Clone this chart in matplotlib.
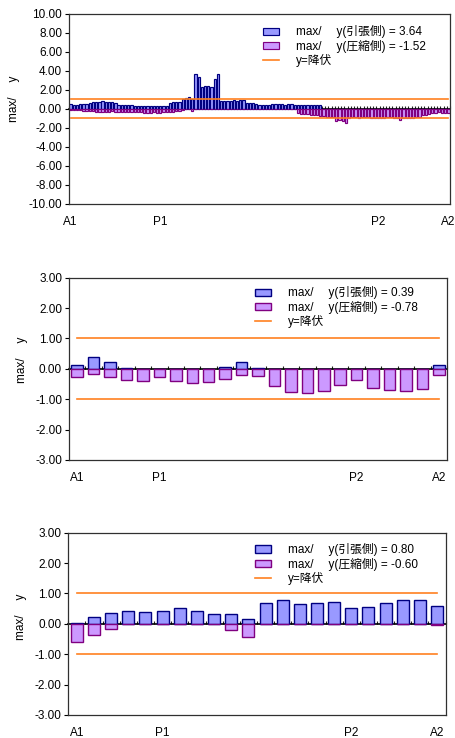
import numpy as np
import matplotlib.pyplot as plt

plt.rcParams['font.family'] = ['Liberation Sans', 'Noto Sans CJK JP']
plt.rcParams['font.size'] = 8.5

# Panel 1 data (119 members)
t1 = [0.50, 0.45, 0.45, 0.50, 0.50, 0.55, 0.60, 0.70,
      0.75, 0.75, 0.78, 0.72, 0.70, 0.70, 0.65,
      0.45, 0.42, 0.42, 0.40, 0.35,
      0.30, 0.30, 0.30, 0.32, 0.30, 0.30, 0.28, 0.30, 0.30, 0.28, 0.30,
      0.60, 0.68, 0.70, 0.70,
      1.05, 1.10, 1.20, 1.05,
      3.64, 3.30, 2.30, 2.40, 2.40, 2.30, 3.10, 3.64,
      0.85, 0.85, 0.80, 0.82,
      0.90, 0.85, 0.90, 0.95,
      0.60, 0.60, 0.60, 0.55,
      0.35, 0.35, 0.35, 0.38,
      0.55, 0.50, 0.48, 0.50, 0.45, 0.48, 0.50, 0.45,
      0.45, 0.42, 0.40, 0.42, 0.45, 0.40, 0.40, 0.45,
      0.00, 0.00, 0.00, 0.00, 0.00, 0.00, 0.00, 0.00, 0.00, 0.00,
      0.00, 0.00, 0.00, 0.00, 0.00, 0.00, 0.00, 0.00, 0.00, 0.00,
      0.00, 0.00, 0.00, 0.00, 0.00, 0.00, 0.00, 0.00, 0.00, 0.00,
      0.00, 0.00, 0.00, 0.00, 0.00, 0.00, 0.00, 0.00, 0.00, 0.00]
c1 = [-0.15, -0.15, -0.15, -0.15, -0.18, -0.20, -0.25, -0.28,
      -0.30, -0.32, -0.30, -0.30, -0.30, -0.28, -0.30,
      -0.30, -0.30, -0.32, -0.30, -0.32, -0.30, -0.30,
      -0.38, -0.40, -0.42, -0.40, -0.38, -0.40, -0.40, -0.35, -0.32, -0.30,
      -0.30, -0.28, -0.28, -0.10,
      -0.05, -0.05, -0.25,
      0.00, 0.00, 0.00, 0.00, 0.00, 0.00, 0.00, 0.00, 0.00, 0.00,
      0.00, 0.00, 0.00, 0.00, 0.00, 0.00, 0.00, 0.00, 0.00, 0.00,
      0.00, 0.00, 0.00, 0.00,
      -0.05, -0.05, -0.05, -0.05, -0.05, -0.05, -0.05, -0.05,
      -0.45, -0.50, -0.55, -0.55, -0.60, -0.60,
      -0.70, -0.72, -0.75,
      -0.85, -0.90, -0.90,
      -1.30, -1.20, -1.30, -1.52,
      -0.95, -0.90, -0.90, -0.92, -0.90, -0.88,
      -0.90, -0.95, -0.95, -0.92, -0.95, -0.95, -0.90, -0.90, -0.95, -0.95,
      -1.20,
      -1.00, -0.95, -0.95, -0.92, -0.90, -0.85,
      -0.60, -0.60, -0.55,
      -0.40, -0.40, -0.38, -0.40, -0.42, -0.40]
ticks1 = {0: 'A1', 28: 'P1', 96: 'P2', 118: 'A2'}

# Panel 2 data (23 members)
t2 = [0.14, 0.39, 0.23, 0.02, 0.00, 0.00, 0.00, 0.00, 0.00, 0.05, 0.23, 0.04,
      0.00, 0.00, 0.00, 0.00, 0.00, 0.00, 0.00, 0.00, 0.00, 0.00, 0.12]
c2 = [-0.27, -0.16, -0.28, -0.37, -0.40, -0.27, -0.39, -0.48, -0.44, -0.35, -0.20, -0.25,
      -0.58, -0.75, -0.78, -0.72, -0.53, -0.36, -0.62, -0.71, -0.74, -0.65, -0.20]
ticks2 = {0: 'A1', 5: 'P1', 17: 'P2', 22: 'A2'}

# Panel 3 data (22 members)
t3 = [0.03, 0.22, 0.35, 0.42, 0.38, 0.41, 0.51, 0.42, 0.33, 0.33, 0.16,
      0.68, 0.80, 0.64, 0.67, 0.71, 0.51, 0.54, 0.70, 0.80, 0.79, 0.59]
c3 = [-0.60, -0.38, -0.16, 0.00, 0.00, 0.00, 0.00, 0.00, 0.00, -0.20, -0.43,
      0.00, 0.00, 0.00, 0.00, 0.00, 0.00, 0.00, 0.00, 0.00, 0.00, -0.05]
ticks3 = {0: 'A1', 5: 'P1', 16: 'P2', 21: 'A2'}

yield_val = 1.0
sig = 'max/\u3000 y'


def draw_panel(ax, tens, comp, ticks, ylim, ystep, leg_xy, ylab_xy, bar_lw):
    n = len(tens)
    x = np.arange(n)
    b1 = ax.bar(x, tens, width=0.7, color='#9999FF', edgecolor='#000080', linewidth=bar_lw,
                label=sig + '(引張側) = %.2f' % max(tens))
    b2 = ax.bar(x, comp, width=0.7, color='#CC99FF', edgecolor='#800080', linewidth=bar_lw,
                label=sig + '(圧縮側) = %.2f' % min(comp))
    ln, = ax.plot([0, n - 1], [yield_val, yield_val], color='#FF8020', lw=1.2, label='y=降伏')
    ax.plot([0, n - 1], [-yield_val, -yield_val], color='#FF8020', lw=1.2)

    ax.set_xlim(-0.5, n - 0.5)
    ax.set_ylim(-ylim, ylim)
    yt = np.arange(-ylim, ylim + 0.001, ystep)
    ax.set_yticks(yt)
    ax.set_yticklabels(['%.2f' % v for v in yt])
    ax.tick_params(axis='y', direction='out', length=3, width=0.8, pad=2)
    ax.set_xticks(list(ticks.keys()))
    ax.set_xticklabels(list(ticks.values()))
    ax.tick_params(axis='x', length=0, pad=9)
    for s in ax.spines.values():
        s.set_color('#303030')
        s.set_linewidth(0.9)

    # category axis crossing at zero
    zax = ax.secondary_xaxis(0, transform=ax.transData)
    zax.set_xticks(np.arange(n + 1) - 0.5)
    zax.tick_params(direction='in', length=2.5, width=0.8, labelbottom=False, color='#202020')
    zax.spines['bottom'].set_linewidth(1.2)
    zax.spines['bottom'].set_color('black')

    ax.set_ylabel(sig)
    ax.yaxis.set_label_coords(*ylab_xy)
    ax.legend(handles=[b1, b2, ln], loc='upper left', bbox_to_anchor=leg_xy, frameon=False,
              borderpad=0, handlelength=1.4, handleheight=0.55, handletextpad=1.4,
              labelspacing=0.12)


fig = plt.figure(figsize=(4.56, 7.38), dpi=100)
ax1 = fig.add_axes([0.1513, 0.7236, 0.8355, 0.2579])
ax2 = fig.add_axes([0.1513, 0.3767, 0.8290, 0.2470])
ax3 = fig.add_axes([0.1498, 0.0312, 0.8274, 0.2470])

draw_panel(ax1, t1, c1, ticks1, 10, 2, (0.493, 0.97), (-0.129, 0.55), 0.85)
draw_panel(ax2, t2, c2, ticks2, 3, 1, (0.476, 0.985), (-0.108, 0.55), 1.0)
draw_panel(ax3, t3, c3, ticks3, 3, 1, (0.479, 0.975), (-0.11, 0.54), 1.0)

fig.savefig('out.png', dpi=100)
